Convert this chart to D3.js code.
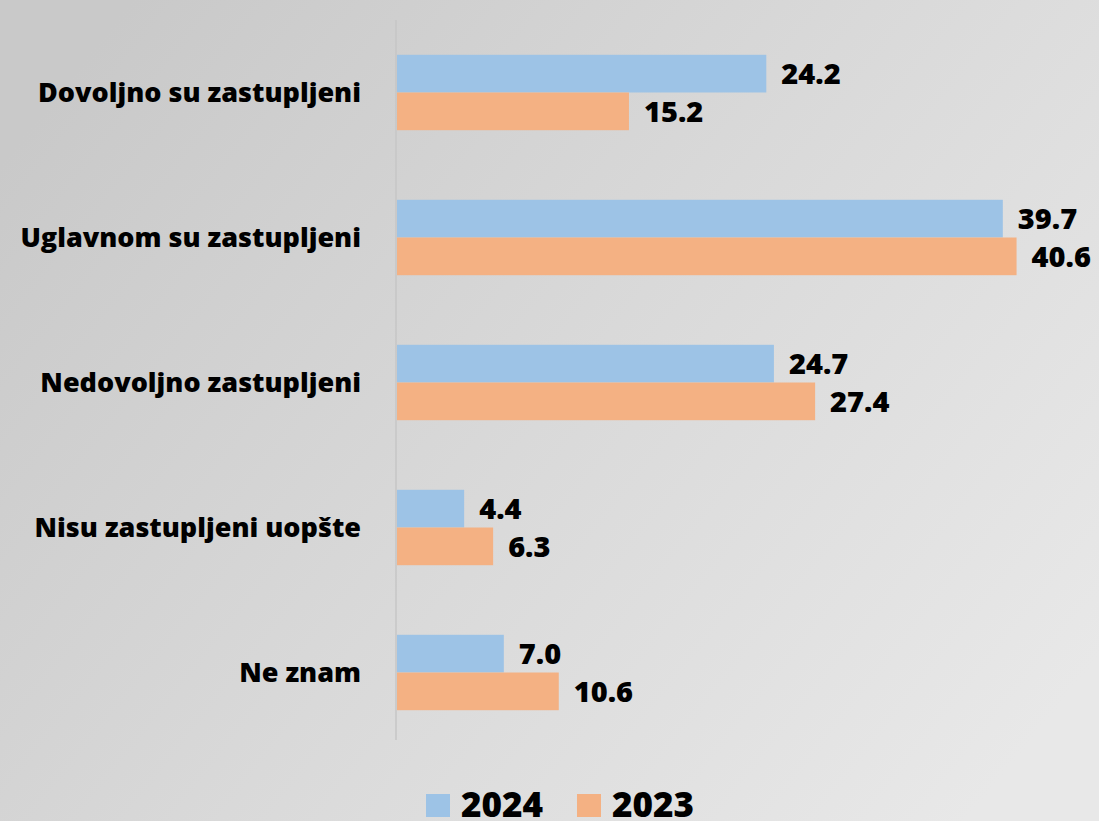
<!DOCTYPE html>
<html>
<head>
<meta charset="utf-8">
<script src="https://cdn.jsdelivr.net/npm/d3@7"></script>
<style>
  html, body { margin: 0; padding: 0; overflow: hidden; }
  svg { display: block; font-family: "Open Sans", "Noto Sans", sans-serif; }
</style>
</head>
<body>
<svg width="1099" height="821"></svg>
<script>
const categories = [
  'Dovoljno su zastupljeni',
  'Uglavnom su zastupljeni',
  'Nedovoljno zastupljeni',
  'Nisu zastupljeni uopšte',
  'Ne znam'
];
const series = ['2024', '2023'];
const values2024 = [24.2, 39.7, 24.7, 4.4, 7.0];
const values2023 = [15.2, 40.6, 27.4, 6.3, 10.6];
const colors = ['#9dc3e6', '#f4b183'];

const svg = d3.select('svg');
const width = +svg.attr('width');
const height = +svg.attr('height');

// background gradient, darker on the left like the slide
const defs = svg.append('defs');
const grad = defs.append('linearGradient')
  .attr('id', 'bg')
  .attr('x1', '0%').attr('y1', '20%')
  .attr('x2', '100%').attr('y2', '80%');
grad.append('stop').attr('offset', '0%').attr('stop-color', '#c9c9c9');
grad.append('stop').attr('offset', '50%').attr('stop-color', '#d9d9d9');
grad.append('stop').attr('offset', '100%').attr('stop-color', '#e8e8e8');
svg.append('rect').attr('width', width).attr('height', height).attr('fill', 'url(#bg)');

const rows = categories.map((c, i) => ({cat: c, vals: [values2024[i], values2023[i]]}));

const x = d3.scaleLinear().domain([0, 10]).range([397, 397 + 152.6]);
const y0 = d3.scaleBand().domain(categories).range([20, 745])
  .paddingInner(0.48).paddingOuter(0.24);
const y1 = d3.scaleBand().domain(series).range([0, y0.bandwidth()]);

// axis line
svg.append('line')
  .attr('x1', x(0) - 1).attr('x2', x(0) - 1)
  .attr('y1', 20).attr('y2', 740)
  .attr('stroke', '#c6c6c6').attr('stroke-width', 1.5);

const groups = svg.append('g').selectAll('g')
  .data(rows)
  .enter()
  .append('g')
  .attr('transform', d => 'translate(0,' + y0(d.cat) + ')');

groups.selectAll('rect')
  .data(d => d.vals.map((v, j) => ({key: series[j], v: v, j: j})))
  .enter()
  .append('rect')
  .attr('x', x(0))
  .attr('y', d => y1(d.key))
  .attr('width', d => x(d.v) - x(0))
  .attr('height', y1.bandwidth())
  .attr('fill', d => colors[d.j]);

groups.selectAll('text.val')
  .data(d => d.vals.map((v, j) => ({key: series[j], v: v})))
  .enter()
  .append('text')
  .attr('class', 'val')
  .attr('x', d => x(d.v) + 15)
  .attr('y', d => y1(d.key) + y1.bandwidth() / 2)
  .attr('dy', '0.36em')
  .attr('font-size', 29)
  .attr('font-weight', 800)
  .attr('fill', '#000')
  .text(d => d3.format('.1f')(d.v));

// category labels
svg.append('g').selectAll('text')
  .data(categories)
  .enter()
  .append('text')
  .attr('x', 361)
  .attr('y', d => y0(d) + y0.bandwidth() / 2)
  .attr('dy', '0.36em')
  .attr('text-anchor', 'end')
  .attr('font-size', 27)
  .attr('font-weight', 800)
  .attr('fill', '#000')
  .text(d => d);

// legend
const legendX = [426, 577];
const legend = svg.append('g').selectAll('g')
  .data(series)
  .enter()
  .append('g')
  .attr('transform', (d, i) => 'translate(' + legendX[i] + ',794)');
legend.append('rect')
  .attr('width', 24).attr('height', 23)
  .attr('fill', (d, i) => colors[i]);
legend.append('text')
  .attr('x', 35).attr('y', 23)
  .attr('font-size', 35)
  .attr('font-weight', 800)
  .attr('fill', '#000')
  .text(d => d);
</script>
</body>
</html>
